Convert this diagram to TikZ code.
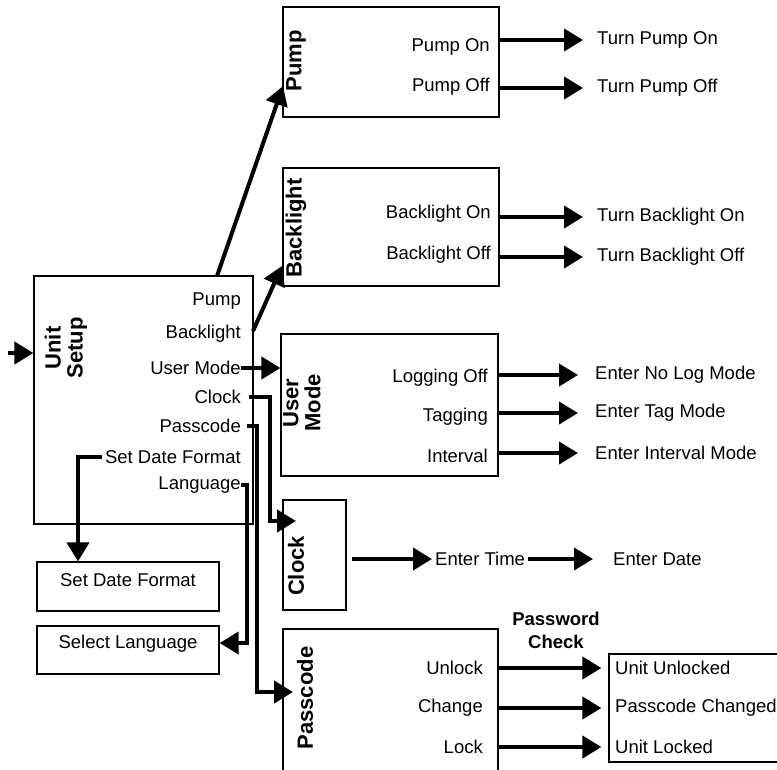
\documentclass[tikz,border=0pt]{standalone}
\usepackage{fontspec}
\setmainfont{Liberation Sans}
\usetikzlibrary{arrows.meta,fit}
\newcommand{\itemfont}{\fontsize{18.5}{21}\selectfont}
\newcommand{\titlefont}{\fontsize{22}{22}\selectfont\bfseries}
\newcommand{\checkfont}{\fontsize{18.5}{23}\selectfont\bfseries}
\begin{document}
\begin{tikzpicture}[x=1pt, y=-1pt,
    box/.style={draw, line width=1.2pt, inner sep=0pt, font=\itemfont},
    item/.style={anchor=east, inner sep=0pt, font=\itemfont},
    result/.style={anchor=west, inner sep=0pt, font=\itemfont},
    title/.style={rotate=90, align=center, inner sep=0pt, font=\titlefont},
    flow/.style={line width=4pt, -{Triangle[length=19pt,width=22pt]}},
  ]
  \useasboundingbox (0,0) rectangle (777,769);
  \clip (0,0) rectangle (777,769);
  % boxes
  \node[box, fit={(34,276) (253,524)}] (setupbox) {};
  \node[box, fit={(283,7) (499,117)}] (pumpbox) {};
  \node[box, fit={(283,168) (499,286)}] (lightbox) {};
  \node[box, fit={(281,334) (498,476)}] (modebox) {};
  \node[box, fit={(283,500) (346,610)}] (clockbox) {};
  \node[box, fit={(283,629) (498,800)}] (codebox) {};
  \node[box, fit={(609,654) (800,762)}] (resultbox) {};
  \node[box, fit={(37,562) (219,611)}] (datebox) {Set Date Format};
  \node[box, fit={(37,626) (219,674)}] (langbox) {Select Language};
  % titles
  \node[title] (setuptitle) at (66,348) {Unit\\Setup};
  \node[title] (pumptitle) at (296,61) {Pump};
  \node[title] (lighttitle) at (296,228) {Backlight};
  \node[title] (modetitle) at (302,403) {User\\Mode};
  \node[title] (clocktitle) at (296,566) {Clock};
  \node[title] (codetitle) at (305,698) {Passcode};
  % unit setup menu
  \node[item] (pump) at (241,301) {Pump};
  \node[item] (backlight) at (241,334) {Backlight};
  \node[item] (usermode) at (241,368) {User Mode};
  \node[item] (clock) at (241,397) {Clock};
  \node[item] (passcode) at (241,426) {Passcode};
  \node[item] (setdate) at (241,457) {Set Date Format};
  \node[item] (language) at (241,485) {Language};
  % sub menus
  \node[item] (pumpon) at (490,47) {Pump On};
  \node[item] (pumpoff) at (490,87) {Pump Off};
  \node[item] (lighton) at (491,214) {Backlight On};
  \node[item] (lightoff) at (491,255) {Backlight Off};
  \node[item] (logoff) at (488,378) {Logging Off};
  \node[item] (tagging) at (488,417) {Tagging};
  \node[item] (interval) at (488,456) {Interval};
  \node[item] (unlock) at (483,668) {Unlock};
  \node[item] (change) at (483,708) {Change};
  \node[item] (lock) at (483,747) {Lock};
  % actions
  \node[result] (turnpumpon) at (597,40) {Turn Pump On};
  \node[result] (turnpumpoff) at (597,88) {Turn Pump Off};
  \node[result] (turnlighton) at (597,217) {Turn Backlight On};
  \node[result] (turnlightoff) at (597,257) {Turn Backlight Off};
  \node[result] (nologmode) at (595,375) {Enter No Log Mode};
  \node[result] (tagmode) at (595,413) {Enter Tag Mode};
  \node[result] (intervalmode) at (595,453) {Enter Interval Mode};
  \node[result] (entertime) at (435,559) {Enter Time};
  \node[result] (enterdate) at (613,559) {Enter Date};
  \node[result] (unlocked) at (615,668) {Unit Unlocked};
  \node[result] (changed) at (615,708) {Passcode Changed};
  \node[result] (locked) at (615,747) {Unit Locked};
  \node[font=\checkfont, align=center] (check) at (556,630) {Password\\Check};
  % connectors
  \coordinate (feed) at (8,353);
  \coordinate (pumpout) at (217,276);
  \coordinate (pumpin) at (283,86);
  \coordinate (lightout) at (253,331);
  \coordinate (lightin) at (282,266);
  \coordinate (clockbend) at (270,521);
  \coordinate (clockin) at (296,521);
  \coordinate (codebend) at (257,692);
  \coordinate (codein) at (293,692);
  \coordinate (langbend) at (247,643);
  \coordinate (datebend) at (78,457);
  \draw[flow] (feed) -- (feed -| setupbox.west);
  \draw[flow] (pumpout) -- (pumpin);
  \draw[flow] (lightout) -- (lightin);
  \draw[flow] (usermode.east) -- (usermode -| modebox.west);
  \draw[flow, shorten <=8pt] (clock.east) -| (clockbend) -- (clockin);
  \draw[flow, shorten <=6pt] (passcode.east) -| (codebend) -- (codein);
  \draw[flow] (language.east) -| (langbend) -- (langbend -| langbox.east);
  \draw[flow, shorten <=3pt] (setdate.west) -- (datebend) -- (datebend |- datebox.north);
  \draw[flow, shorten >=14pt] (pumpbox.east |- turnpumpon) -- (turnpumpon.west);
  \draw[flow, shorten >=14pt] (pumpbox.east |- turnpumpoff) -- (turnpumpoff.west);
  \draw[flow, shorten >=14pt] (lightbox.east |- turnlighton) -- (turnlighton.west);
  \draw[flow, shorten >=14pt] (lightbox.east |- turnlightoff) -- (turnlightoff.west);
  \draw[flow, shorten >=17pt] (modebox.east |- nologmode) -- (nologmode.west);
  \draw[flow, shorten >=17pt] (modebox.east |- tagmode) -- (tagmode.west);
  \draw[flow, shorten >=17pt] (modebox.east |- intervalmode) -- (intervalmode.west);
  \draw[flow, shorten <=5pt, shorten >=3pt] (clockbox.east |- entertime) -- (entertime.west);
  \draw[flow, shorten <=3pt, shorten >=20pt] (entertime.east) -- (enterdate.west);
  \draw[flow, shorten >=7pt] (codebox.east |- unlocked) -- (resultbox.west |- unlocked);
  \draw[flow, shorten >=7pt] (codebox.east |- changed) -- (resultbox.west |- changed);
  \draw[flow, shorten >=7pt] (codebox.east |- locked) -- (resultbox.west |- locked);
\end{tikzpicture}
\end{document}
